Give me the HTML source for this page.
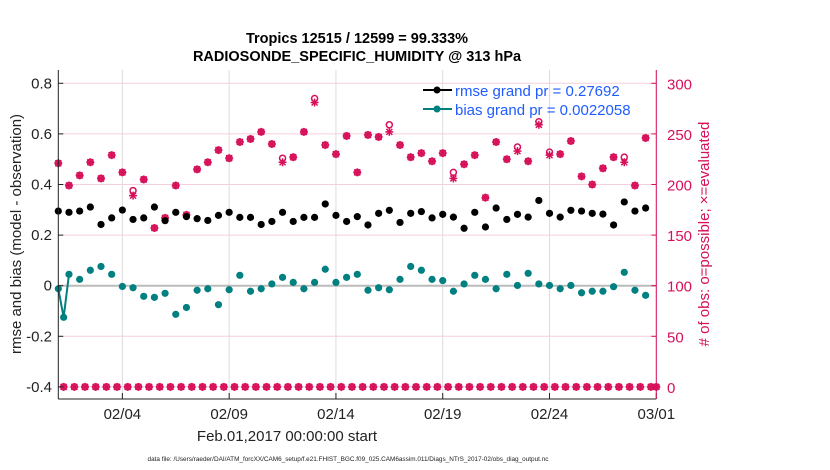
<!DOCTYPE html>
<html><head><meta charset="utf-8"><style>
body{margin:0;background:#fff;font-family:"Liberation Sans",Arial,sans-serif}
svg{display:block}
</style></head><body>
<svg id="chart" width="830" height="470" xmlns="http://www.w3.org/2000/svg" font-family="Liberation Sans, Arial, sans-serif">
<g id="grid"></g><g id="marks"></g><g id="axes"></g>
<text x="357" y="43" text-anchor="middle" font-size="14.5" font-weight="bold">Tropics 12515 / 12599 = 99.333%</text>
<text x="357" y="61" text-anchor="middle" font-size="14.5" font-weight="bold">RADIOSONDE_SPECIFIC_HUMIDITY @ 313 hPa</text>
<text x="287" y="441" text-anchor="middle" font-size="15" fill="#222">Feb.01,2017 00:00:00 start</text>
<text x="348" y="461" text-anchor="middle" font-size="6.4" fill="#222">data file: /Users/raeder/DAI/ATM_forcXX/CAM6_setup/f.e21.FHIST_BGC.f09_025.CAM6assim.011/Diags_NTrS_2017-02/obs_diag_output.nc</text>
<text transform="translate(21,234) rotate(-90)" text-anchor="middle" font-size="15" fill="#222">rmse and bias (model - observation)</text>
<text transform="translate(709,234) rotate(-90)" text-anchor="middle" font-size="15" fill="#d6105a"># of obs: o=possible; ×=evaluated</text>
<g>
<line x1="423" y1="90" x2="452" y2="90" stroke="#000" stroke-width="2"/><circle cx="437" cy="90" r="3.5" fill="#000"/>
<text x="455" y="96" font-size="15" fill="#1f5cff">rmse grand pr = 0.27692</text>
<line x1="423" y1="109" x2="452" y2="109" stroke="#008080" stroke-width="2"/><circle cx="437" cy="109" r="3.5" fill="#008080"/>
<text x="455" y="115" font-size="15" fill="#1f5cff">bias grand pr = 0.0022058</text>
</g>
</svg>
<script>
const rmseVals=[0.295,0.29,0.295,0.311,0.242,0.268,0.299,0.262,0.268,0.311,0.257,0.29,0.273,0.265,0.258,0.278,0.29,0.27,0.27,0.242,0.254,0.29,0.254,0.27,0.27,0.323,0.278,0.254,0.273,0.24,0.286,0.298,0.25,0.286,0.293,0.268,0.282,0.271,0.227,0.29,0.232,0.307,0.262,0.282,0.271,0.337,0.286,0.271,0.298,0.295,0.286,0.283,0.24,0.331,0.295,0.307];
const biasVals=[-0.012,0.045,0.025,0.061,0.076,0.045,-0.003,-0.008,-0.042,-0.046,-0.03,-0.113,-0.086,-0.018,-0.012,-0.075,-0.016,0.041,-0.022,-0.012,0.007,0.033,0.013,-0.012,0.013,0.065,0.013,0.033,0.045,-0.018,-0.008,-0.016,0.025,0.076,0.061,0.025,0.02,-0.022,0.007,0.041,0.025,-0.012,0.045,0.001,0.049,0.007,0.001,-0.012,0.001,-0.028,-0.022,-0.022,-0.004,0.053,-0.018,-0.038];
const biasExtraTime=0.25, biasExtraVal=-0.125;
const possibleCounts=[221,199,209,222,206,229,212,194,205,157,167,199,170,215,222,234,226,242,245,252,240,226,227,252,285,239,230,248,212,249,247,259,239,227,231,223,231,212,220,229,187,242,225,237,223,262,232,230,243,208,200,216,227,227,199,246];
const evaluatedCounts=[221,199,209,222,206,229,212,189,205,157,167,199,170,215,222,234,226,242,245,252,240,222,227,252,281,239,230,248,212,249,247,252,239,227,231,223,231,206,220,229,187,242,225,233,223,259,229,230,243,208,200,216,227,222,199,246];
const leftTicks=[-0.4,-0.2,0,0.2,0.4,0.6,0.8];
const leftTickLabels=["-0.4","-0.2","0","0.2","0.4","0.6","0.8"];
const rightTicks=[0,50,100,150,200,250,300];
const dayTicks=[3,8,13,18,23,28];
const dayTickLabels=["02/04","02/09","02/14","02/19","02/24","03/01"];
const stepDays=0.5;
const X0=58.3,X1=656.3,YT=70,YB=399;
const xs=d=>X0+(X1-X0)*d/28;
const yL=v=>285.7-v*253;
const yR=r=>yL(-0.4+r*0.004);
const NS="http://www.w3.org/2000/svg";
function mk(tag,attrs,parent){const e=document.createElementNS(NS,tag);for(const k in attrs)e.setAttribute(k,attrs[k]);parent.appendChild(e);return e;}
const grid=document.getElementById('grid'),marks=document.getElementById('marks'),axes=document.getElementById('axes');
rightTicks.forEach(r=>{const l=mk('line',{x1:X0,x2:X1,y1:yR(r),y2:yR(r),stroke:'#f6cfdc','stroke-width':1},grid);

});
dayTicks.forEach((d,i)=>{const l=mk('line',{x1:xs(d),x2:xs(d),y1:YT,y2:YB,stroke:'#dcdcdc','stroke-width':1},grid);


const t=mk('text',{x:xs(d),y:YB+20,'text-anchor':'middle','font-size':15,fill:'#222'},axes);t.textContent=dayTickLabels[i];


mk('line',{x1:xs(d),x2:xs(d),y1:YB,y2:YB-6,stroke:'#222'},axes);});
const z=mk('line',{x1:X0,x2:X1,y1:yL(0),y2:yL(0),stroke:'#bbb','stroke-width':2},grid);


leftTicks.forEach((v,i)=>{const t=mk('text',{x:52,y:yL(v)+5,'text-anchor':'end','font-size':15,fill:'#222'},axes);t.textContent=leftTickLabels[i];


mk('line',{x1:X0,x2:X0+5,y1:yL(v),y2:yL(v),stroke:'#222'},axes);});
rightTicks.forEach(r=>{const t=mk('text',{x:667,y:yR(r)+6,'font-size':15,fill:'#d6105a'},axes);t.textContent=String(r);


mk('line',{x1:X1,x2:X1-5,y1:yR(r),y2:yR(r),stroke:'#d6105a'},axes);});
mk('line',{x1:X0,x2:X0,y1:YT,y2:YB,stroke:'#222'},axes);
mk('line',{x1:X0,x2:X1,y1:YB,y2:YB,stroke:'#222'},axes);
mk('line',{x1:X1,x2:X1,y1:YT,y2:YB,stroke:'#d6105a'},axes);
function pinkStar(cx,cy,name){const g=mk('g',{stroke:'#d6105a','stroke-width':1.5},marks);


const s=4;mk('line',{x1:cx-s,x2:cx+s,y1:cy,y2:cy},g);mk('line',{x1:cx,x2:cx,y1:cy-s,y2:cy+s},g);
mk('line',{x1:cx-3,x2:cx+3,y1:cy-3,y2:cy+3},g);mk('line',{x1:cx-3,x2:cx+3,y1:cy+3,y2:cy-3},g);}
function pinkCircle(cx,cy){const c=mk('circle',{cx:cx,cy:cy,r:3,fill:'none',stroke:'#d6105a','stroke-width':1.5},marks);

}
possibleCounts.forEach((r,i)=>{const x=xs(i*stepDays);pinkCircle(x,yR(r));pinkStar(x,yR(evaluatedCounts[i]),'evaluated-count-marker');});
for(let d=0.25;d<=28.01;d+=0.5){pinkCircle(xs(d),yR(0));pinkStar(xs(d),yR(0),'zero-count-marker');}
pinkCircle(xs(28),yR(0));pinkStar(xs(28),yR(0),'zero-count-marker');
const bl=mk('polyline',{points:[[xs(0),yL(biasVals[0])],[xs(biasExtraTime),yL(biasExtraVal)],[xs(stepDays),yL(biasVals[1])]].map(p=>p.join(',')).join(' '),fill:'none',stroke:'#008080','stroke-width':2},marks);


biasVals.forEach((v,i)=>{const c=mk('circle',{cx:xs(i*stepDays),cy:yL(v),r:3.6,fill:'#008080'},marks);

});
const ce=mk('circle',{cx:xs(biasExtraTime),cy:yL(biasExtraVal),r:3.6,fill:'#008080'},marks);


rmseVals.forEach((v,i)=>{const c=mk('circle',{cx:xs(i*stepDays),cy:yL(v),r:3.6,fill:'#000'},marks);

});
</script>
</body></html>
